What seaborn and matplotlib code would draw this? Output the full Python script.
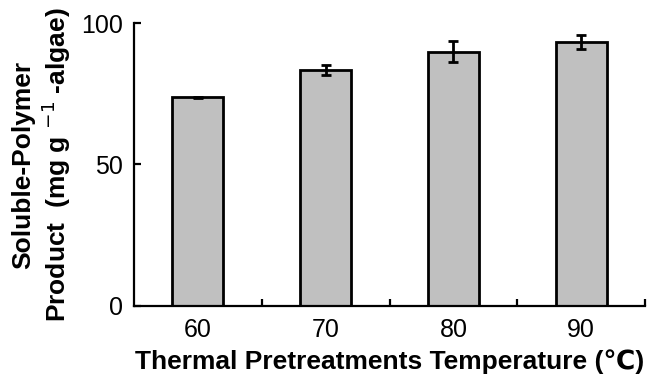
import matplotlib
matplotlib.use("Agg")
import matplotlib.pyplot as plt
import seaborn as sns
import pandas as pd

temperatures = ["60", "70", "80", "90"]
product = [73.7, 83.4, 89.9, 93.3]
product_err = [0.3, 1.7, 3.8, 2.4]

sns.set_style("ticks")
plt.rcParams["font.family"] = ["Liberation Sans", "DejaVu Sans"]
plt.rcParams.update({"text.color": "black", "axes.labelcolor": "black",
                     "xtick.color": "black", "ytick.color": "black",
                     "axes.edgecolor": "black"})

df = pd.DataFrame({"temp": temperatures, "value": product})

fig = plt.figure(figsize=(6.49, 3.81), dpi=100)
ax = fig.add_axes([0.2065, 0.197, 0.7875, 0.7425])

sns.barplot(data=df, x="temp", y="value", color="#c0c0c0", width=0.4,
            edgecolor="black", linewidth=2, errorbar=None, saturation=1, ax=ax)
for p in ax.patches:
    p.set_facecolor("#c0c0c0")

ax.errorbar(range(len(temperatures)), product, yerr=product_err, fmt="none",
            ecolor="black", elinewidth=2, capsize=3.5, capthick=2)

ax.set_xlim(-0.5, 3.5)
ax.set_ylim(0, 100)
ax.set_yticks([0, 50, 100])
sns.despine(ax=ax)
for s in ("left", "bottom"):
    ax.spines[s].set_linewidth(1.6)
    ax.spines[s].set_color("black")

# category labels without tick marks; separators between groups point inward
ax.set_xticks(range(len(temperatures)))
ax.set_xticklabels(temperatures)
ax.tick_params(axis="x", length=0, labelsize=18, pad=9, colors="black")
ax.set_xticks([0.5, 1.5, 2.5, 3.5], minor=True)
ax.tick_params(axis="x", which="minor", direction="in", length=5, width=1.6, colors="black")
ax.tick_params(axis="y", direction="in", length=5, width=1.6, labelsize=18, pad=8,
               colors="black")

ax.set_xlabel("Thermal Pretreatments Temperature (\u2103)", fontsize=19,
              fontweight="bold", labelpad=5, color="black")
ax.set_ylabel("Soluble-Polymer\nProduct  (mg g $^{-1}$ -algae)", fontsize=19,
              fontweight="bold", labelpad=6, linespacing=1.15, color="black")

fig.savefig("out.png", dpi=100)
